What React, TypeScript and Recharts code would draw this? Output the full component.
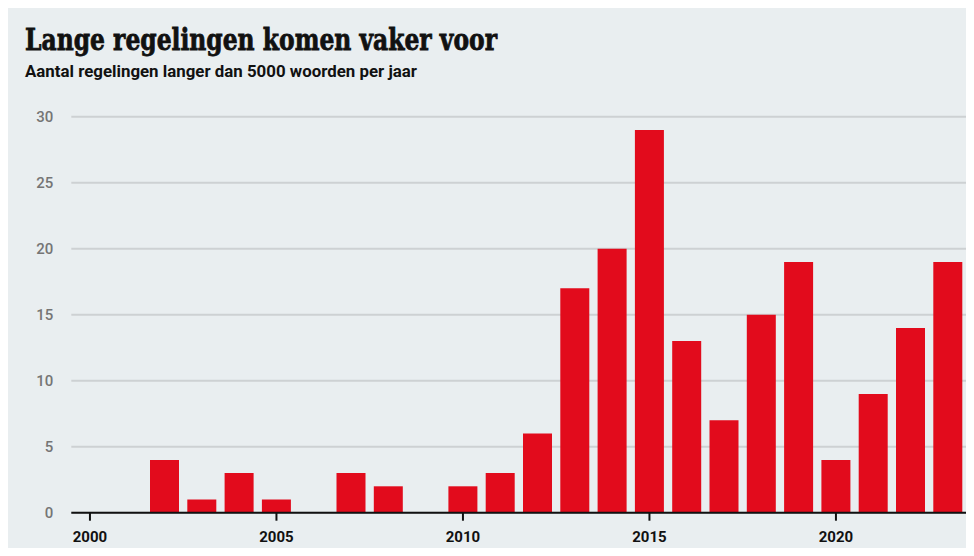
import React from 'react';
import { BarChart, Bar, XAxis, YAxis, CartesianGrid } from 'recharts';

const years = [2000, 2001, 2002, 2003, 2004, 2005, 2006, 2007, 2008, 2009, 2010, 2011, 2012, 2013, 2014, 2015, 2016, 2017, 2018, 2019, 2020, 2021, 2022, 2023];
const counts = [0, 0, 4, 1, 3, 1, 0, 3, 2, 0, 2, 3, 6, 17, 20, 29, 13, 7, 15, 19, 4, 9, 14, 19];
const yTicks = [0, 5, 10, 15, 20, 25, 30];
const title = 'Lange regelingen komen vaker voor';
const subtitle = 'Aantal regelingen langer dan 5000 woorden per jaar';

const data = years.map((y, i) => ({ year: y, count: counts[i] }));

const BG = '#e9eef0';
const RED = '#e20b1c';

export default function App() {
  return (
    <div style={{ position: 'relative', width: 966, height: 548, marginBottom: -8, background: BG }}>
      <svg width={966} height={100} style={{ position: 'absolute', left: 0, top: 0 }}>
        <text
          x={17}
          y={42}
          fontFamily="'DejaVu Serif', serif"
          fontWeight={700}
          fontSize={29}
          textLength={472}
          lengthAdjust="spacingAndGlyphs"
          fill="#111"
          stroke="#111"
          strokeWidth={0.8}
        >
          {title}
        </text>
        <text
          x={17}
          y={68.7}
          fontFamily="Roboto, sans-serif"
          fontWeight={700}
          fontSize={17}
          textLength={392}
          lengthAdjust="spacingAndGlyphs"
          fill="#111"
        >
          {subtitle}
        </text>
      </svg>
      <div style={{ position: 'absolute', left: 0, top: 0 }}>
        <BarChart
          width={966}
          height={548}
          data={data}
          margin={{ top: 108.7, right: 7.5, left: 0, bottom: 0 }}
          barCategoryGap="11%"
        >
          <CartesianGrid vertical={false} stroke="#cdd1d3" strokeWidth={2} />
          <YAxis
            type="number"
            domain={[0, 30]}
            ticks={yTicks}
            width={63.3}
            axisLine={false}
            tickLine={false}
            tickSize={0}
            tickMargin={18}
            tick={{ fill: '#757575', fontSize: 15, fontFamily: 'Roboto, sans-serif', fontWeight: 500 }}
          />
          <XAxis
            dataKey="year"
            interval={4}
            height={43.3}
            axisLine={{ stroke: '#111', strokeWidth: 2 }}
            tickLine={{ stroke: '#111', strokeWidth: 2 }}
            tickSize={8}
            tickMargin={11}
            tick={{ fill: '#111', fontSize: 15, fontFamily: 'Roboto, sans-serif', fontWeight: 700 }}
          />
          <Bar dataKey="count" fill={RED} isAnimationActive={false} />
        </BarChart>
      </div>
    </div>
  );
}
